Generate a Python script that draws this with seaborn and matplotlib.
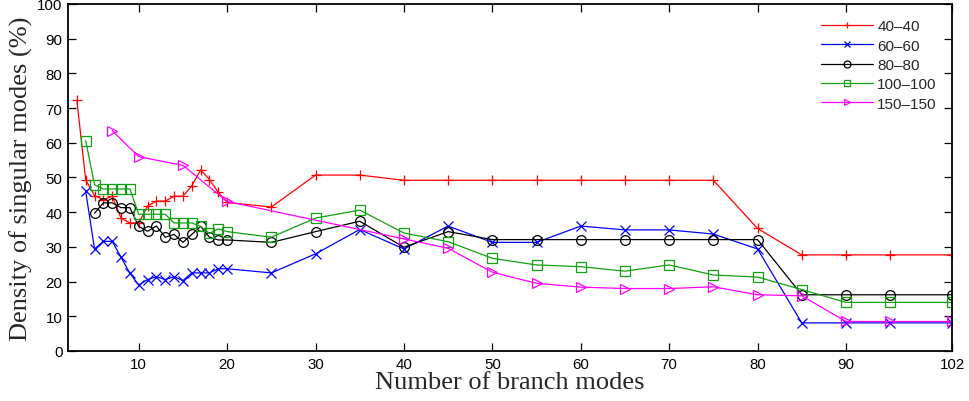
import numpy as np
import pandas as pd
import matplotlib
matplotlib.use("Agg")
import matplotlib.pyplot as plt
import seaborn as sns

# Branch-mode counts and singular-mode densities (%) per mesh size
x_40 = [3, 4, 5, 6, 7, 8, 9, 10, 11, 12, 13, 14, 15, 16, 17, 18, 19, 20,
        25, 30, 35, 40, 45, 50, 55, 60, 65, 70, 75, 80, 85, 90, 95, 102]
y_40 = [72.3, 49.3, 44.8, 43.6, 44.6, 38.3, 36.9, 36.9, 41.8, 43.2, 43.2, 44.6,
        44.6, 47.6, 52.2, 49.4, 45.7, 42.8,
        41.5, 50.7, 50.7, 49.2, 49.2, 49.2, 49.2, 49.2, 49.2, 49.2, 49.2, 35.3,
        27.7, 27.7, 27.7, 27.7]

x_60 = [4, 5, 6, 7, 8, 9, 10, 11, 12, 13, 14, 15, 16, 17, 18, 19, 20,
        25, 30, 35, 40, 45, 50, 55, 60, 65, 70, 75, 80, 85, 90, 95, 102]
y_60 = [46.0, 29.4, 31.6, 31.6, 27.0, 22.4, 19.0, 20.6, 21.4, 20.6, 21.4, 20.3,
        22.5, 22.5, 22.5, 23.7, 23.7,
        22.5, 28.0, 35.0, 29.4, 36.0, 31.3, 31.3, 36.0, 34.9, 34.9, 33.7, 29.4,
        8.1, 8.1, 8.1, 8.1]

x_80 = [5, 6, 7, 8, 9, 10, 11, 12, 13, 14, 15, 16, 17, 18, 19, 20,
        25, 30, 35, 40, 45, 50, 55, 60, 65, 70, 75, 80, 85, 90, 95, 102]
y_80 = [39.7, 42.7, 42.7, 41.3, 41.3, 35.9, 34.5, 36.0, 32.8, 33.6, 31.3, 33.6,
        35.9, 32.8, 32.0, 32.0,
        31.3, 34.4, 37.4, 29.9, 34.4, 32.1, 32.1, 32.1, 32.1, 32.1, 32.1, 32.1,
        16.2, 16.2, 16.2, 16.2]

x_100 = [4, 5, 6, 7, 8, 9, 10, 11, 12, 13, 14, 15, 16, 17, 18, 19, 20,
         25, 30, 35, 40, 45, 50, 55, 60, 65, 70, 75, 80, 85, 90, 95, 102]
y_100 = [60.6, 47.9, 46.7, 46.7, 46.7, 46.7, 39.4, 39.4, 39.4, 39.4, 36.9, 36.9,
         36.9, 35.9, 33.9, 35.2, 34.4,
         32.8, 38.3, 40.6, 34.0, 31.5, 26.7, 24.8, 24.3, 23.0, 24.8, 21.9, 21.3,
         17.7, 14.0, 14.0, 14.0]

x_150 = [7, 10, 15, 20, 40, 45, 50, 55, 60, 65, 70, 75, 80, 85, 90, 95, 102]
y_150 = [63.5, 56.0, 53.5, 43.1, 32.3, 29.6, 22.7, 19.5, 18.4, 18.0, 18.0, 18.5,
         16.2, 15.9, 8.5, 8.5, 8.5]

labels = ["40\u201340", "60\u201360", "80\u201380", "100\u2013100", "150\u2013150"]
colors = ["#ff0000", "#0000ff", "#000000", "#11a011", "#ff00ff"]
markers = ["+", "x", "o", "s", ">"]
x_ticks = [10, 20, 30, 40, 50, 60, 70, 80, 90, 102]

frames = []
for lab, xs, ys in zip(labels, [x_40, x_60, x_80, x_100, x_150],
                       [y_40, y_60, y_80, y_100, y_150]):
    frames.append(pd.DataFrame({"modes": xs, "density": ys, "mesh": lab}))
df = pd.concat(frames, ignore_index=True)

sns.set_style("ticks")
plt.rcParams["font.family"] = ["Liberation Sans", "DejaVu Sans"]

fig = plt.figure(figsize=(9.69, 4.02), dpi=100)
ax = fig.add_axes([0.0702, 0.1244, 0.9123, 0.8632])

for lab, col, mk in zip(labels, colors, markers):
    sub = df[df["mesh"] == lab]
    sns.lineplot(data=sub, x="modes", y="density", ax=ax, color=col,
                 marker=mk, markersize=7, linewidth=0.9, label=lab,
                 markerfacecolor="none", markeredgecolor=col,
                 markeredgewidth=0.9, estimator=None, sort=False)

ax.set_xlim(2, 102)
ax.set_ylim(0, 100)
ax.set_xticks(x_ticks)
ax.set_yticks(np.arange(0, 101, 10))
ax.tick_params(direction="in", length=6, width=0.9, top=True, right=True,
               labelsize=10.8, colors="black", pad=4)
for sp in ax.spines.values():
    sp.set_visible(True)
    sp.set_linewidth(1.3)
    sp.set_color("black")

ax.set_xlabel("Number of branch modes", family="Liberation Serif",
              fontsize=19, labelpad=0)
ax.set_ylabel("Density of singular modes (%)", family="Liberation Serif",
              fontsize=19, labelpad=3)

leg = ax.legend(loc="upper right", frameon=False, fontsize=11,
                handlelength=3.4, handletextpad=0.3, labelspacing=0.35,
                borderaxespad=0.6, bbox_to_anchor=(1.0, 1.0))
for ln in leg.get_lines():
    ln.set_markersize(5)
    ln.set_linewidth(0.9)

fig.savefig("out.png", dpi=100)
